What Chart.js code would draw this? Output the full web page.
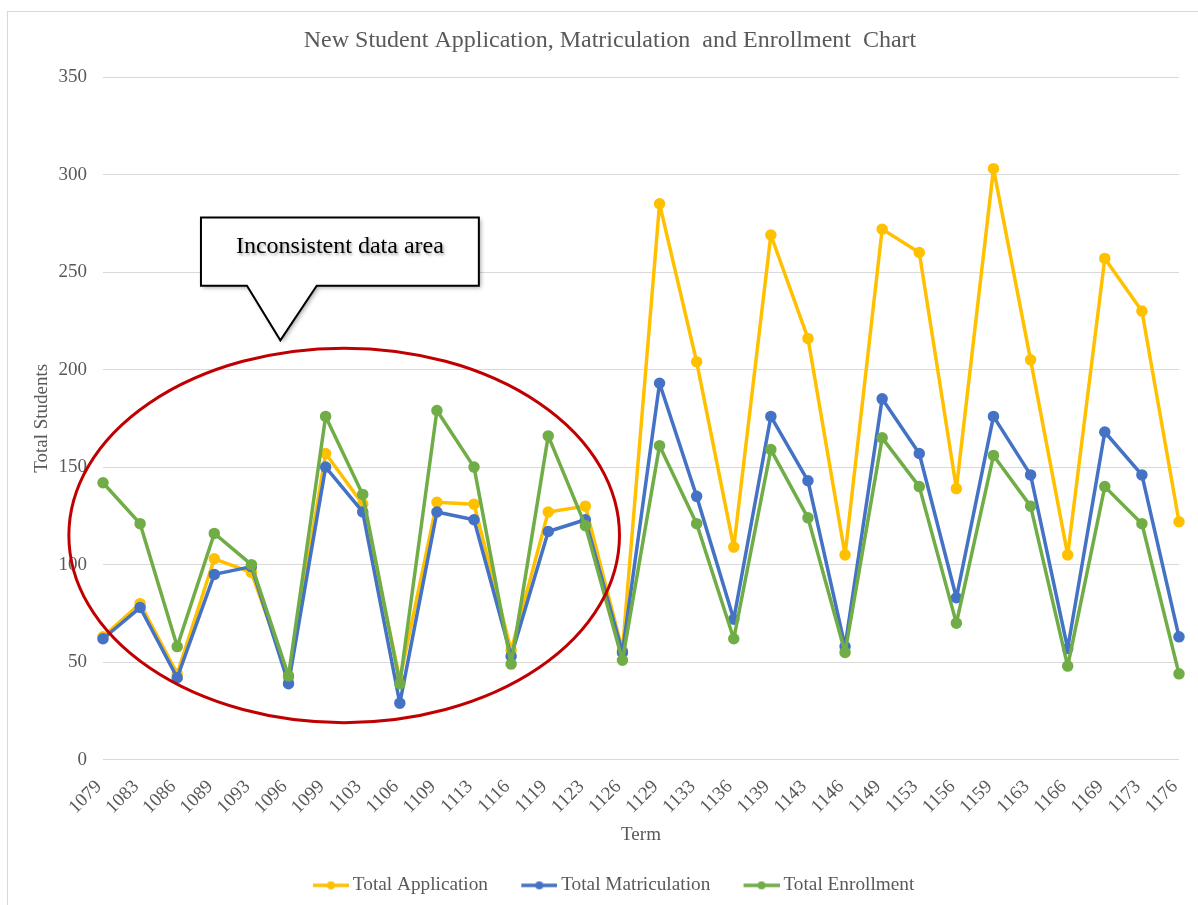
<!DOCTYPE html>
<html>
<head>
<meta charset="utf-8">
<title>New Student Application, Matriculation and Enrollment Chart</title>
<script src="https://cdn.jsdelivr.net/npm/chart.js@4/dist/chart.umd.min.js"></script>
<style>
  html, body { margin: 0; padding: 0; background: #fff; }
  #wrap { position: relative; width: 1198px; height: 905px; overflow: hidden; }
  #frame { position: absolute; left: 7px; top: 11px; width: 1300px; height: 1000px; border: 1px solid #d9d9d9; }
  #chart { position: absolute; left: 0; top: 0; }
</style>
</head>
<body>
<div id="wrap">
  <div id="frame"></div>
  <canvas id="chart" width="1198" height="905"></canvas>
</div>
<script>
// ===== data =====
const terms = [1079, 1083, 1086, 1089, 1093, 1096, 1099, 1103, 1106, 1109, 1113, 1116, 1119, 1123, 1126,
  1129, 1133, 1136, 1139, 1143, 1146, 1149, 1153, 1156, 1159, 1163, 1166, 1169, 1173, 1176];
const totalApplication = [63, 80, 44, 103, 96, 42, 157, 131, 41, 132, 131, 56, 127, 130, 56,
  285, 204, 109, 269, 216, 105, 272, 260, 139, 303, 205, 105, 257, 230, 122];
const totalMatriculation = [62, 78, 42, 95, 99, 39, 150, 127, 29, 127, 123, 53, 117, 123, 55,
  193, 135, 72, 176, 143, 58, 185, 157, 83, 176, 146, 57, 168, 146, 63];
const totalEnrollment = [142, 121, 58, 116, 100, 43, 176, 136, 39, 179, 150, 49, 166, 120, 51,
  161, 121, 62, 159, 124, 55, 165, 140, 70, 156, 130, 48, 140, 121, 44];
const yTicks = { min: 0, max: 350, step: 50 };

// ===== styles =====
const FONT = "'Liberation Serif', 'Times New Roman', serif";
const GREY = "#595959";
const COLORS = { app: "#FFC000", mat: "#4472C4", enr: "#70AD47" };

// little "line with dot" image for legend markers (transparent margin on the left for spacing)
function legendMarker(color) {
  const c = document.createElement("canvas");
  c.width = 49; c.height = 12;
  const g = c.getContext("2d");
  g.strokeStyle = color; g.lineWidth = 3.5;
  g.beginPath(); g.moveTo(13, 6); g.lineTo(49, 6); g.stroke();
  g.fillStyle = color;
  g.beginPath(); g.arc(31, 6, 4, 0, Math.PI * 2); g.fill();
  return c;
}

function series(label, data, color, order) {
  return {
    label, data, order,
    borderColor: color, backgroundColor: color,
    borderWidth: 3.5, borderJoinStyle: "round", borderCapStyle: "round",
    pointRadius: 4, pointHoverRadius: 4,
    pointBackgroundColor: color, pointBorderColor: color,
    pointStyle: "circle", tension: 0,
  };
}

// ===== callout + ellipse annotation (placed in data space) =====
const ellipseNote = { xCenter: 6.5, yCenter: 115, xRadius: 7.42, yRadius: 96 };
const calloutNote = { text: "Inconsistent data area", x0: 2.64, x1: 10.13, yTop: 278, yBottom: 243, tipX: 4.78, tipY: 215, baseX0: 3.88, baseX1: 5.76 };

const annotations = {
  id: "annotations",
  afterDraw(chart) {
    const { ctx, scales: { x, y } } = chart;
    const px = v => x.getPixelForValue(v);
    const py = v => y.getPixelForValue(v);
    ctx.save();

    // red ellipse
    const cx = px(ellipseNote.xCenter), cy = py(ellipseNote.yCenter);
    const rx = px(ellipseNote.xCenter + ellipseNote.xRadius) - cx;
    const ry = cy - py(ellipseNote.yCenter + ellipseNote.yRadius);
    ctx.strokeStyle = "#C00000"; ctx.lineWidth = 3;
    ctx.beginPath(); ctx.ellipse(cx, cy, rx, ry, 0, 0, Math.PI * 2); ctx.stroke();

    // speech bubble
    const c = calloutNote;
    const L = px(c.x0), R = px(c.x1), T = py(c.yTop), B = py(c.yBottom);
    ctx.beginPath();
    ctx.moveTo(L, T); ctx.lineTo(R, T); ctx.lineTo(R, B);
    ctx.lineTo(px(c.baseX1), B); ctx.lineTo(px(c.tipX), py(c.tipY)); ctx.lineTo(px(c.baseX0), B);
    ctx.lineTo(L, B); ctx.closePath();
    ctx.shadowColor = "rgba(0,0,0,0.35)"; ctx.shadowBlur = 4; ctx.shadowOffsetX = 2; ctx.shadowOffsetY = 2;
    ctx.fillStyle = "#fff"; ctx.fill();
    ctx.shadowColor = "transparent";
    ctx.strokeStyle = "#000"; ctx.lineWidth = 2; ctx.stroke();

    ctx.font = "24px " + FONT;
    ctx.textAlign = "center"; ctx.textBaseline = "alphabetic";
    ctx.shadowColor = "rgba(0,0,0,0.35)"; ctx.shadowBlur = 3; ctx.shadowOffsetX = 1.5; ctx.shadowOffsetY = 1.5;
    ctx.fillStyle = "#000";
    ctx.fillText(c.text, (L + R) / 2, T + 36);
    ctx.restore();
  },
};

// ===== chart =====
const chart = new Chart(document.getElementById("chart").getContext("2d"), {
  type: "line",
  data: {
    labels: terms,
    datasets: [
      series("Total Application", totalApplication, COLORS.app, 2),
      series("Total Matriculation", totalMatriculation, COLORS.mat, 1),
      series("Total Enrollment", totalEnrollment, COLORS.enr, 0),
    ],
  },
  options: {
    responsive: false,
    animation: false,
    events: [],
    layout: { padding: { top: 26, right: 19, bottom: 0, left: 41 } },
    plugins: {
      title: {
        display: true,
        text: "New Student Application, Matriculation  and Enrollment  Chart",
        color: GREY,
        font: { family: FONT, size: 24, weight: "normal" },
        padding: { top: 0, bottom: 22.2 },
      },
      legend: {
        position: "bottom",
        labels: {
          color: GREY,
          font: { family: FONT, size: 19.3 },
          usePointStyle: true,
          pointStyleWidth: 37.5,
          padding: 26,
          generateLabels(ch) {
            return ch.data.datasets.map((ds, i) => ({
              text: ds.label,
              fontColor: GREY,
              pointStyle: legendMarker(ds.borderColor),
              datasetIndex: i,
              hidden: false,
              lineWidth: 0,
            }));
          },
        },
      },
      tooltip: { enabled: false },
    },
    scales: {
      x: {
        grid: { display: false, drawTicks: false },
        border: { display: false },
        ticks: {
          color: GREY, font: { family: FONT, size: 19 },
          maxRotation: 45, minRotation: 45, padding: 16, labelOffset: -4, autoSkip: false,
        },
        title: {
          display: true, text: "Term", color: GREY,
          font: { family: FONT, size: 19 }, padding: { top: 0, bottom: 3 },
        },
        afterFit(s) { s.height = 90; s.paddingRight = 0; },
      },
      y: {
        min: yTicks.min, max: yTicks.max,
        grid: { color: "#d9d9d9", lineWidth: 1, drawTicks: false },
        border: { display: false },
        ticks: { stepSize: yTicks.step, color: GREY, font: { family: FONT, size: 19 }, padding: 16 },
        title: {
          display: true, text: "Total Students", color: GREY,
          font: { family: FONT, size: 19 }, padding: { top: -10.4, bottom: 0 },
        },
        afterFit(s) { s.width = 62; },
      },
    },
  },
  plugins: [annotations],
});
</script>
</body>
</html>
